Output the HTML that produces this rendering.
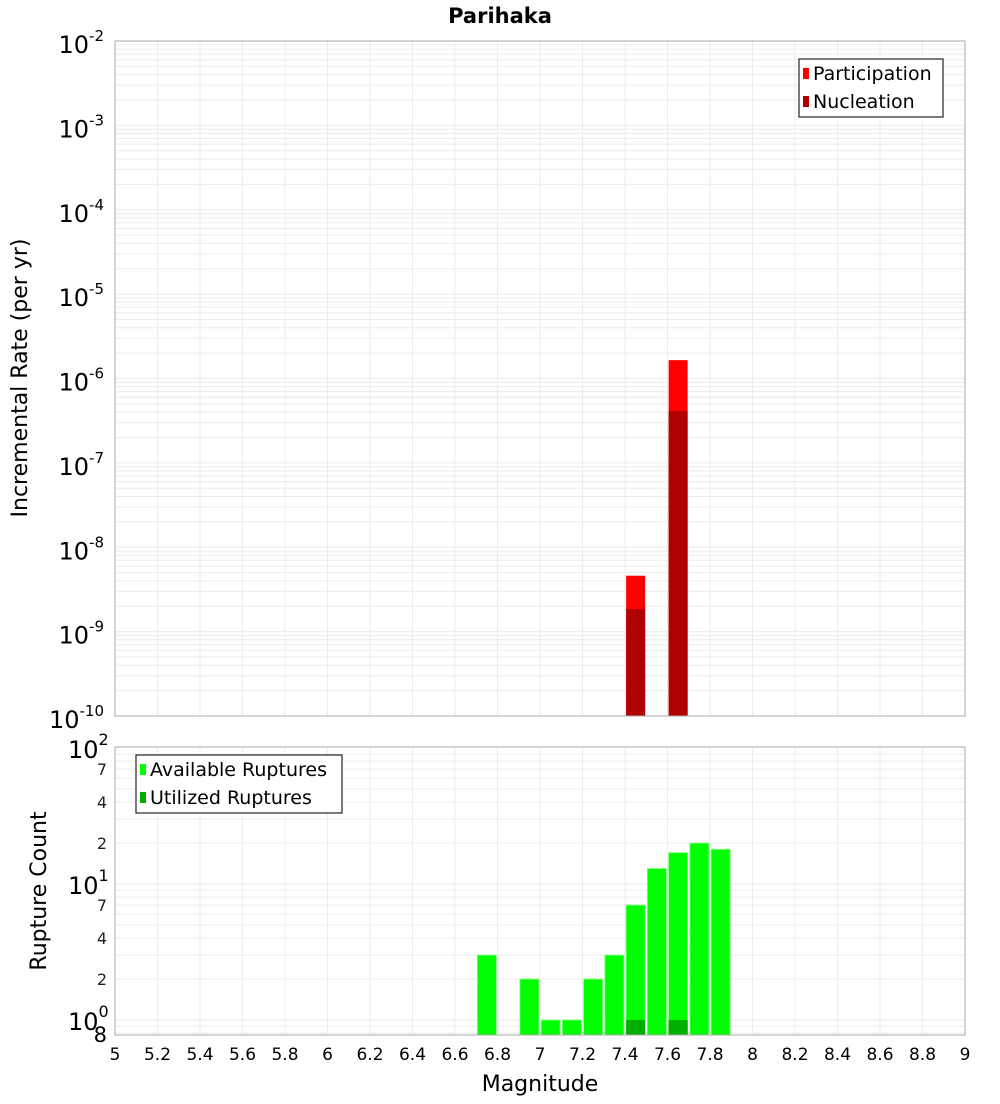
<!DOCTYPE html>
<html><head><meta charset="utf-8"><style>
body{margin:0;background:#fff;font-family:"DejaVu Sans","Liberation Sans",sans-serif}
svg text{font-family:"DejaVu Sans","Liberation Sans",sans-serif}
</style></head><body>
<svg id="c" width="1000" height="1100" xmlns="http://www.w3.org/2000/svg">
<text x="500" y="23" text-anchor="middle" font-size="21" font-weight="bold">Parihaka</text>
<text transform="translate(27,378) rotate(-90)" text-anchor="middle" font-size="22">Incremental Rate (per yr)</text>
<text transform="translate(46,891) rotate(-90)" text-anchor="middle" font-size="22">Rupture Count</text>
<text x="540" y="1091" text-anchor="middle" font-size="22">Magnitude</text>
<g id="g"></g>
</svg>
<script>
const binCenters=[7.45,7.65];
const participation=[4.6e-9,1.65e-6];
const nucleation=[1.85e-9,4.1e-7];
const countBins=[6.75,6.95,7.05,7.15,7.25,7.35,7.45,7.55,7.65,7.75,7.85];
const available=[3,2,1,1,2,3,7,13,17,20,18];
const utilBins=[7.45,7.65];
const utilized=[1,1];
const xTicks=["5","5.2","5.4","5.6","5.8","6","6.2","6.4","6.6","6.8","7","7.2","7.4","7.6","7.8","8","8.2","8.4","8.6","8.8","9"];
const topExp=[-2,-3,-4,-5,-6,-7,-8,-9,-10];
const botMinor=[2,4,7,20,40,70];

const NS="http://www.w3.org/2000/svg";
const g=document.getElementById('g');
function mk(t,a,p){const e=document.createElementNS(NS,t);for(const k in a)e.setAttribute(k,a[k]);(p||g).appendChild(e);return e;}
const X0=115,X1=965;
const xs=m=>X0+(m-5)/4*(X1-X0);
const T0=41,T1=716;
const yt=v=>T0+(-2-Math.log10(v))*(T1-T0)/8;
const B0=747,B1=1035;
const yb=v=>1020-136*Math.log10(v);

// top grid
for(let d=-10;d<-2;d++){for(let k=1;k<10;k++){const y=yt(k*Math.pow(10,d));const l=mk('line',{x1:X0,x2:X1,y1:y,y2:y,stroke:'#ebebeb','stroke-width':1});}}
for(let i=0;i<xTicks.length;i++){const x=xs(+xTicks[i]);
 let l=mk('line',{x1:x,x2:x,y1:T0,y2:T1,stroke:'#ebebeb'});
 l=mk('line',{x1:x,x2:x,y1:B0,y2:B1,stroke:'#ebebeb'});
 const t=mk('text',{x:x,y:1060,'text-anchor':'middle','font-size':17});t.textContent=xTicks[i];}
// bottom grid
for(let d=-1;d<2;d++){for(let k=1;k<10;k++){const v=k*Math.pow(10,d);const y=yb(v);if(y<B0-1||y>B1)continue;const l=mk('line',{x1:X0,x2:X1,y1:y,y2:y,stroke:'#ebebeb'});}}

// top bars
const bw=19;
for(let i=0;i<binCenters.length;i++){const x=xs(binCenters[i])-bw/2;
 let r=mk('rect',{x:x,y:yt(participation[i]),width:bw,height:T1-yt(participation[i]),fill:'#ff0000'});
 r=mk('rect',{x:x,y:yt(nucleation[i]),width:bw,height:T1-yt(nucleation[i]),fill:'#b00000'});}
// bottom bars
for(let i=0;i<countBins.length;i++){const x=xs(countBins[i])-bw/2;const y=yb(available[i]);
 const r=mk('rect',{x:x,y:y,width:bw,height:B1-y,fill:'#00ff00',stroke:'#7dff7d','stroke-width':0.8});}
for(let i=0;i<utilBins.length;i++){const x=xs(utilBins[i])-bw/2;const y=yb(utilized[i]);
 const r=mk('rect',{x:x,y:y,width:bw,height:B1-y,fill:'#00b000'});}

// frames
let f=mk('rect',{x:X0,y:T0,width:X1-X0,height:T1-T0,fill:'none',stroke:'#aaa'});
f=mk('rect',{x:X0,y:B0,width:X1-X0,height:B1-B0,fill:'none',stroke:'#aaa'});

// top y labels
for(const e of topExp){const y=yt(Math.pow(10,e));
 const t=mk('text',{x:104,y:y+12,'text-anchor':'end','font-size':24});
 t.innerHTML='10<tspan dy="-12" font-size="15">'+e+'</tspan>';}
// bottom y labels
[[100,'2'],[10,'1'],[1,'0']].forEach(p=>{const y=yb(p[0]);
 const t=mk('text',{x:68,y:y+10,'font-size':24});
 t.innerHTML='10<tspan dy="-13" font-size="16">'+p[1]+'</tspan>';});
for(const v of botMinor){const y=yb(v);const t=mk('text',{x:107,y:y+6,'text-anchor':'end','font-size':16,fill:'#222'});t.textContent=String(v).charAt(0);}
let t8=mk('text',{x:107,y:1042,'text-anchor':'end','font-size':21});t8.textContent='8';

// legends
function legend(x,y,w,items,name){const lg=mk('g',{});
 mk('rect',{x:x,y:y,width:w,height:58,fill:'#fff',stroke:'#333','stroke-width':1.3},lg);
 items.forEach((it,i)=>{const yy=y+14+i*28;mk('rect',{x:x+4,y:yy-5,width:6,height:11,fill:it[1]},lg);
  const t=mk('text',{x:x+14,y:yy+7,'font-size':19},lg);t.textContent=it[0];});}
legend(799,59,144,[['Participation','#ff0000'],['Nucleation','#b00000']],'top-legend');
legend(136,755,206,[['Available Ruptures','#00ff00'],['Utilized Ruptures','#00b000']],'bottom-legend');
</script>
</body></html>
